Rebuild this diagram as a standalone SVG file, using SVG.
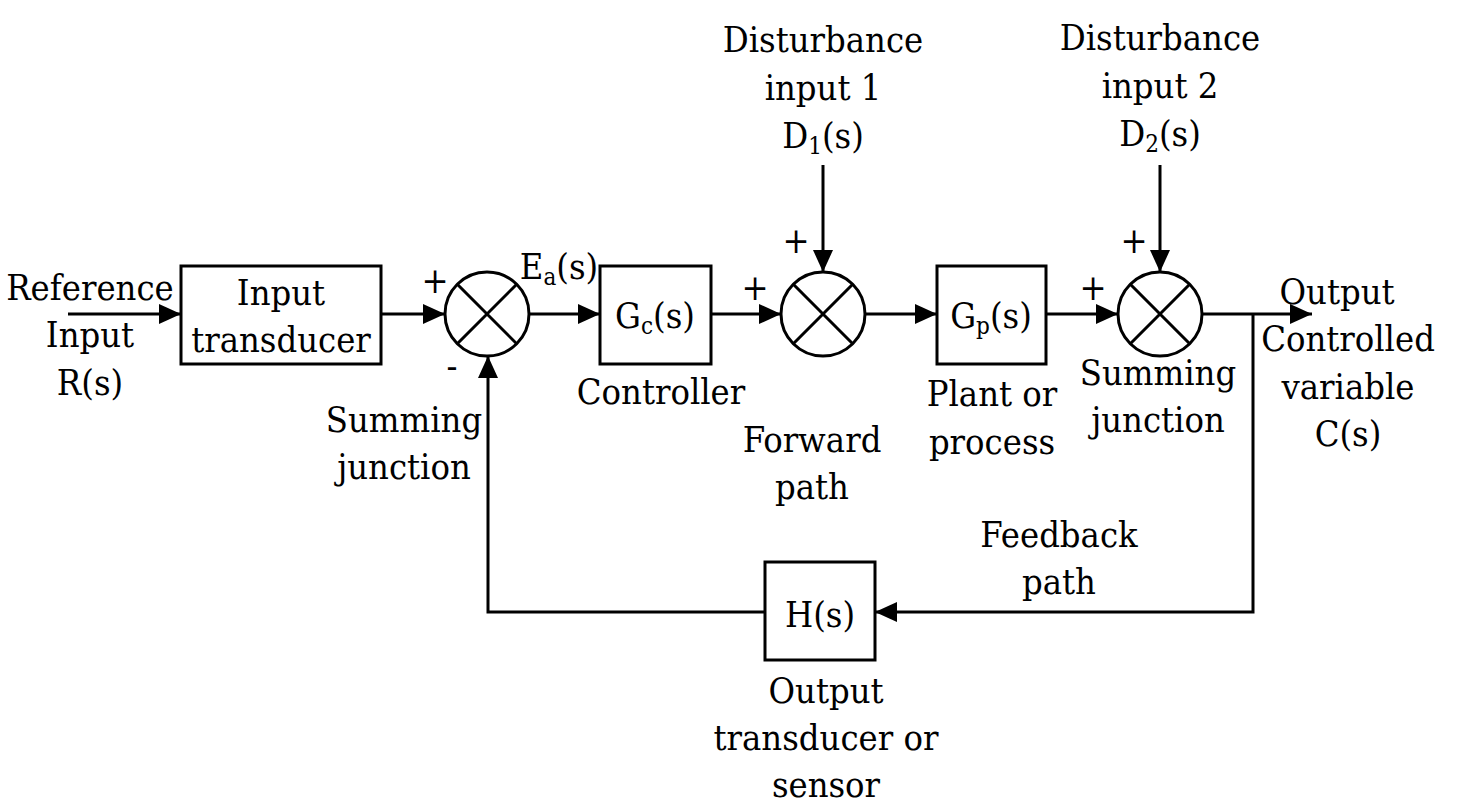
<svg xmlns="http://www.w3.org/2000/svg" width="1459" height="812" viewBox="0 0 1459 812">
<style>
text{font-family:"DejaVu Serif Condensed","DejaVu Serif","Liberation Serif",serif;font-stretch:condensed;font-size:36px;fill:#000;text-anchor:middle}
.b{fill:#fff;stroke:#000;stroke-width:3}
.l{fill:none;stroke:#000;stroke-width:3}
.a{marker-end:url(#ah)}
.sub{font-size:24px}
</style>
<defs>
<marker id="ah" markerUnits="userSpaceOnUse" markerWidth="22" markerHeight="20" refX="22" refY="10" orient="auto">
<path d="M0,0 L22,10 L0,20 z" fill="#000"/>
</marker>
</defs>
<rect width="1459" height="812" fill="#fff"/>
<g id="connectors">
<line class="l a" x1="68" y1="314" x2="181" y2="314"/>
<line class="l a" x1="381" y1="314" x2="445" y2="314"/>
<line class="l a" x1="529" y1="314" x2="600" y2="314"/>
<line class="l a" x1="711" y1="314" x2="781" y2="314"/>
<line class="l a" x1="865" y1="314" x2="937" y2="314"/>
<line class="l a" x1="1046" y1="314" x2="1118" y2="314"/>
<line class="l a" x1="1202" y1="314" x2="1312" y2="314"/>
<line class="l a" x1="823" y1="165" x2="823" y2="272"/>
<line class="l a" x1="1160" y1="165" x2="1160" y2="272"/>
<path class="l a" d="M1253,314 L1253,612 L875,612"/>
<path class="l a" d="M765,612 L488,612 L488,356"/>
</g>
<g id="ref-input">
<text x="90" y="300">Reference</text>
<text x="90" y="347">Input</text>
<text x="90" y="395">R(s)</text>
</g>
<g id="input-transducer">
<rect class="b" x="181" y="266" width="200" height="98"/>
<text x="281" y="305">Input</text>
<text x="281" y="352">transducer</text>
</g>
<g id="sum1">
<circle class="b" cx="487" cy="314" r="42"/>
<path class="l" d="M457.3,284.3 L516.7,343.7 M516.7,284.3 L457.3,343.7"/>
<text x="435" y="293">+</text>
<text x="452" y="378">-</text>
<text x="404" y="432">Summing</text>
<text x="404" y="479">junction</text>
</g>
<g id="ea">
<text x="559" y="279">E<tspan class="sub" dy="6">a</tspan><tspan dy="-6">(s)</tspan></text>
</g>
<g id="controller">
<rect class="b" x="600" y="266" width="111" height="98"/>
<text x="655" y="328">G<tspan class="sub" dy="6">c</tspan><tspan dy="-6">(s)</tspan></text>
<text x="661" y="404">Controller</text>
</g>
<g id="sum2">
<circle class="b" cx="823" cy="314" r="42"/>
<path class="l" d="M793.3,284.3 L852.7,343.7 M852.7,284.3 L793.3,343.7"/>
<text x="755" y="300">+</text>
<text x="796" y="253">+</text>
</g>
<g id="dist1">
<text x="823" y="52">Disturbance</text>
<text x="823" y="100">input 1</text>
<text x="823" y="148">D<tspan class="sub" dy="6">1</tspan><tspan dy="-6">(s)</tspan></text>
</g>
<g id="forward">
<text x="812" y="452">Forward</text>
<text x="812" y="499">path</text>
</g>
<g id="plant">
<rect class="b" x="937" y="266" width="109" height="98"/>
<text x="991" y="328">G<tspan class="sub" dy="6">p</tspan><tspan dy="-6">(s)</tspan></text>
<text x="992" y="406">Plant or</text>
<text x="992" y="454">process</text>
</g>
<g id="sum3">
<circle class="b" cx="1160" cy="314" r="42"/>
<path class="l" d="M1130.3,284.3 L1189.7,343.7 M1189.7,284.3 L1130.3,343.7"/>
<text x="1093" y="300">+</text>
<text x="1134" y="253">+</text>
<text x="1158" y="385">Summing</text>
<text x="1158" y="432">junction</text>
</g>
<g id="dist2">
<text x="1160" y="50">Disturbance</text>
<text x="1160" y="98">input 2</text>
<text x="1160" y="146">D<tspan class="sub" dy="6">2</tspan><tspan dy="-6">(s)</tspan></text>
</g>
<g id="output">
<text x="1337" y="304">Output</text>
<text x="1348" y="351">Controlled</text>
<text x="1348" y="399">variable</text>
<text x="1348" y="446">C(s)</text>
</g>
<g id="feedback">
<text x="1059" y="547">Feedback</text>
<text x="1059" y="594">path</text>
</g>
<g id="sensor">
<rect class="b" x="765" y="562" width="110" height="98"/>
<text x="820" y="627">H(s)</text>
<text x="826" y="703">Output</text>
<text x="826" y="750">transducer or</text>
<text x="826" y="797">sensor</text>
</g>
</svg>
